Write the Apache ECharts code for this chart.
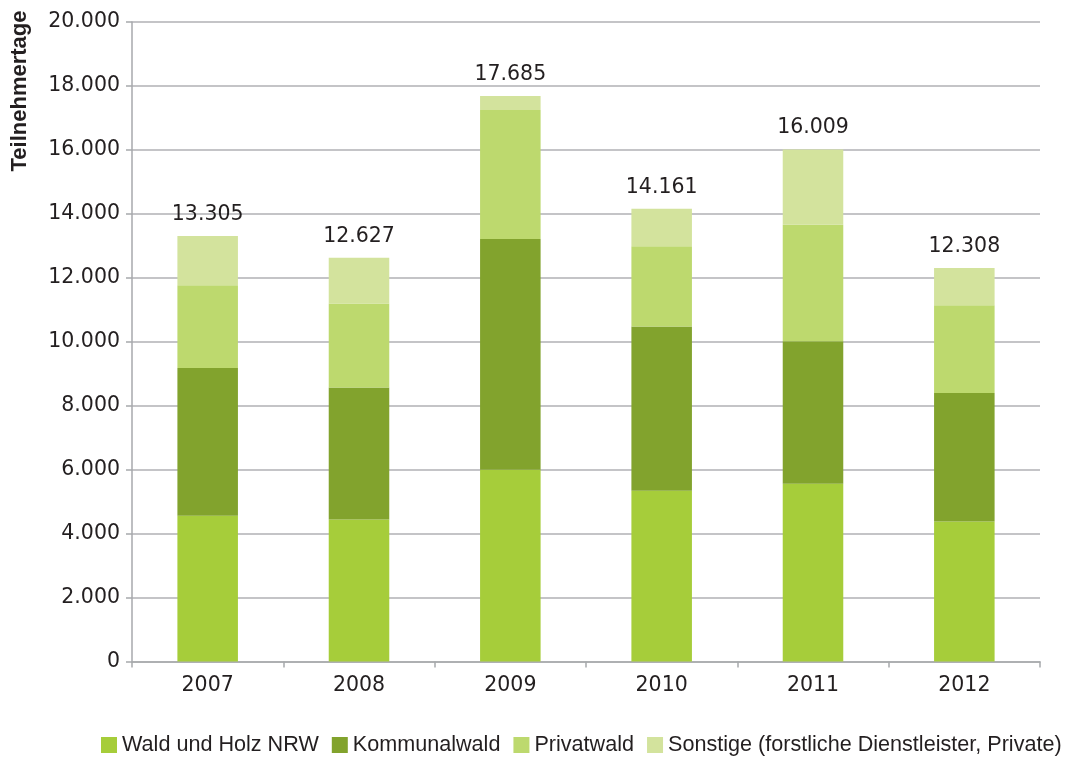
<!DOCTYPE html>
<html>
<head>
<meta charset="utf-8">
<script src="https://cdn.jsdelivr.net/npm/echarts@6/dist/echarts.min.js"></script>
<style>html,body{margin:0;padding:0;background:#fff}#c{width:1082px;height:758px}</style>
</head>
<body>
<div id="c"></div>
<script>
const years = ['2007','2008','2009','2010','2011','2012'];
const waldUndHolz = [4560, 4440, 6000, 5340, 5560, 4375];
const kommunalwald = [4620, 4130, 7215, 5135, 4455, 4020];
const privatwald = [2590, 2630, 4030, 2510, 3645, 2750];
const sonstige = [1535, 1427, 440, 1176, 2349, 1163];
const totals = [13305, 12627, 17685, 14161, 16009, 12308];
const seriesNames = ['Wald und Holz NRW', 'Kommunalwald', 'Privatwald', 'Sonstige (forstliche Dienstleister, Private)'];
const colors = ['#a6cd3a', '#82a32d', '#bdd96e', '#d3e39d'];

function fmt(v){ return String(v).replace(/\B(?=(\d{3})+(?!\d))/g, '.'); }

const numFont = '"DejaVu Sans", sans-serif';
const chart = echarts.init(document.getElementById('c'), null, {renderer:'canvas'});
const dataSets = [waldUndHolz, kommunalwald, privatwald, sonstige];
const series = dataSets.map((d, i) => ({
  name: seriesNames[i],
  type: 'bar',
  stack: 'total',
  barWidth: '40%',
  data: d,
  itemStyle: { color: colors[i] },
  label: i === 3 ? {
    show: true, position: 'top', distance: 11,
    formatter: p => fmt(totals[p.dataIndex]),
    color: '#231f20', fontSize: 20.5, fontFamily: numFont
  } : { show: false }
}));

chart.setOption({
  animation: false,
  color: colors,
  grid: { left: 132, right: 42, top: 22, bottom: 96.5, containLabel: false },
  legend: {
    left: 101, right: 0, bottom: 2, padding: 0,
    orient: 'horizontal',
    itemWidth: 16, itemHeight: 16, itemGap: 13,
    icon: 'rect',
    textStyle: { fontSize: 21.6, color: '#231f20', fontFamily: '"Liberation Sans", Arial, sans-serif' },
    data: seriesNames
  },
  xAxis: {
    type: 'category',
    data: years,
    axisLine: { show: true, lineStyle: { color: '#a7a9ac', width: 1.5 } },
    axisTick: { show: true, length: 6, lineStyle: { color: '#a7a9ac', width: 1.5 } },
    axisLabel: { fontSize: 20.5, color: '#231f20', margin: 14, fontFamily: numFont }
  },
  yAxis: {
    type: 'value',
    min: 0, max: 20000, interval: 2000,
    axisLine: { show: true, lineStyle: { color: '#a7a9ac', width: 1.5 } },
    axisTick: { show: true, length: 6, lineStyle: { color: '#a7a9ac', width: 1.5 } },
    splitLine: { show: true, lineStyle: { color: '#b1b1b5', width: 1.5 } },
    axisLabel: { fontSize: 20.5, color: '#231f20', margin: 12, formatter: v => fmt(v), fontFamily: numFont }
  },
  graphic: [{
    type: 'text',
    x: 20, y: 91,
    rotation: Math.PI / 2,
    style: {
      text: 'Teilnehmertage',
      fill: '#231f20',
      font: 'bold 22px "Liberation Sans", Arial, sans-serif',
      textAlign: 'center', textVerticalAlign: 'middle'
    }
  }],
  series: series
});
</script>
</body>
</html>
